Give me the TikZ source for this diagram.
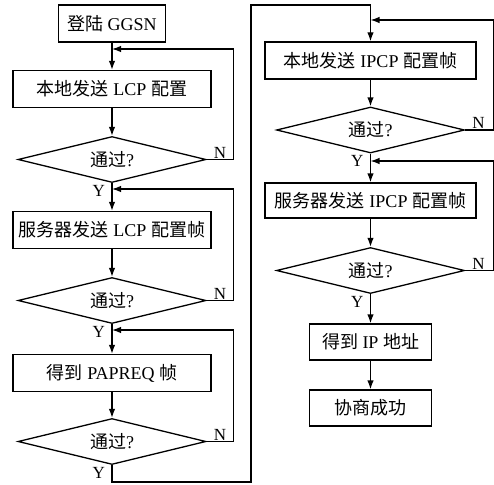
\documentclass[tikz,border=0pt]{standalone}
\usepackage{fontspec}
\setmainfont{Liberation Serif}
\newfontfamily\cjk{Noto Sans CJK SC}
\usetikzlibrary{arrows.meta,shapes.geometric,calc}
\tikzset{>={Latex[length=9pt,width=6.5pt]}}
\tikzstyle{box}=[rectangle,draw,line width=1.3pt,minimum height=37pt,inner sep=0pt,font=\fontsize{18}{20}\selectfont]
\tikzstyle{decision}=[diamond,draw,line width=1.3pt,minimum width=188pt,minimum height=46pt,aspect=4,inner sep=0pt,font=\fontsize{18}{20}\selectfont]
\tikzstyle{flow}=[line width=1.3pt]
\tikzstyle{yn}=[inner sep=1pt,font=\fontsize{17}{19}\selectfont]

\begin{document}
\begin{tikzpicture}[x=1pt,y=-1pt]
	\def \lx {112};
	\def \rx {370.5};
	\def \mx {251};
	\useasboundingbox (0,0) rectangle (494,484);

	% left column
	\node[box,minimum width=107pt] (login) at (\lx,23.5) {{\cjk 登陆} GGSN};
	\node[box,minimum width=198pt] (lcpl) at (\lx,89) {{\cjk 本地发送} LCP {\cjk 配置}};
	\node[decision] (chk1) at (\lx,159.5) {{\cjk 通过}?};
	\node[box,minimum width=198pt] (lcps) at (\lx,230) {{\cjk 服务器发送} LCP {\cjk 配置帧}};
	\node[decision] (chk2) at (\lx,300.5) {{\cjk 通过}?};
	\node[box,minimum width=198pt] (pap) at (\lx,373) {{\cjk 得到} PAPREQ {\cjk 帧}};
	\node[decision] (chk3) at (\lx,441.5) {{\cjk 通过}?};

	% right column
	\node[box,minimum width=211pt] (ipcpl) at (\rx,60.5) {{\cjk 本地发送} IPCP {\cjk 配置帧}};
	\node[decision] (chk4) at (\rx,130) {{\cjk 通过}?};
	\node[box,minimum width=211pt,minimum height=35pt] (ipcps) at (\rx,200.5) {{\cjk 服务器发送} IPCP {\cjk 配置帧}};
	\node[decision] (chk5) at (\rx,270.5) {{\cjk 通过}?};
	\node[box,minimum width=122pt,minimum height=36pt] (ipaddr) at (\rx,342) {{\cjk 得到} IP {\cjk 地址}};
	\node[box,minimum width=122pt,minimum height=36pt] (done) at (\rx,408) {\cjk 协商成功};

	% junctions of the retry loops
	\coordinate (j1) at (\lx,49);
	\coordinate (j2) at (\lx,189);
	\coordinate (j3) at (\lx,330);
	\coordinate (j4) at (\rx,20);
	\coordinate (j5) at (\rx,161);
	\coordinate (c1) at (\mx,482);
	\coordinate (c2) at (\mx,5);

	\draw[flow,->] (login) -- (lcpl);
	\draw[flow,->] (lcpl) -- (chk1);
	\draw[flow,->] (chk1) -- (lcps);
	\draw[flow,->] (lcps) -- (chk2);
	\draw[flow,->] (chk2) -- (pap);
	\draw[flow,->] (pap) -- (chk3);
	\draw[flow,->] (chk3.south) |- (c1) -- (c2) -| (ipcpl.north);
	\draw[flow,->] (ipcpl) -- (chk4);
	\draw[flow,->] (chk4) -- (ipcps);
	\draw[flow,->] (ipcps) -- (chk5);
	\draw[flow,->] (chk5) -- (ipaddr);
	\draw[flow,->] (ipaddr) -- (done);

	\foreach \d/\j in {chk1/j1,chk2/j2,chk3/j3} {
		\draw[flow,->] (\d.east) -- ++(27,0) |- (\j);
		\node[yn,anchor=south west,xshift=6pt] (n\d) at (\d.east) {N};
		\node[yn,anchor=north east,xshift=-6pt,yshift=-1pt] (y\d) at (\d.south) {Y};
	};
	\foreach \d/\j in {chk4/j4,chk5/j5} {
		\draw[flow,->] (\d.east) -- ++(28,0) |- (\j);
		\node[yn,anchor=south west,xshift=6pt] (n\d) at (\d.east) {N};
		\node[yn,anchor=north east,xshift=-6pt,yshift=-1pt] (y\d) at (\d.south) {Y};
	};
\end{tikzpicture}
\end{document}
